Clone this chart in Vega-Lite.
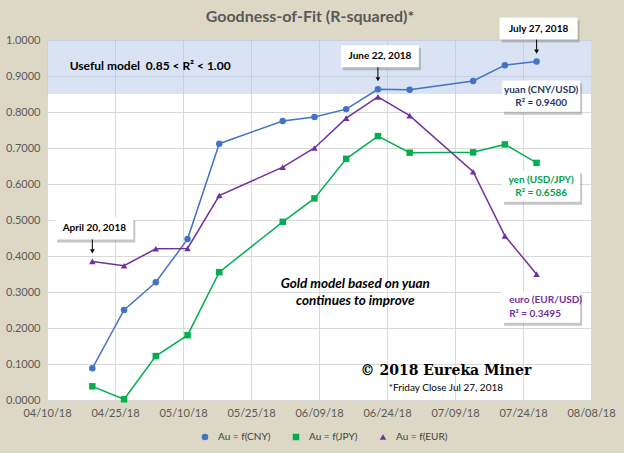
{
  "$schema": "https://vega.github.io/schema/vega-lite/v6.json",
  "width": 544,
  "height": 360,
  "autosize": "none",
  "padding": {"left": 47, "top": 40, "right": 33, "bottom": 53},
  "background": "#DDD8C5",
  "view": {"fill": "#FFFFFF", "stroke": null},
  "config": {"font": "Lato", "text": {"font": "Lato"}},
  "title": {"text": "Goodness-of-Fit (R-squared)*", "fontSize": 16, "font": "Lato", "fontWeight": "bold", "color": "#595959", "anchor": "middle", "frame": "group", "offset": -7, "dx": -9},
  "datasets": {
    "series": [
      {"date": "2018-04-20", "series": "Au = f(CNY)", "r2": 0.088},
      {"date": "2018-04-27", "series": "Au = f(CNY)", "r2": 0.250},
      {"date": "2018-05-04", "series": "Au = f(CNY)", "r2": 0.327},
      {"date": "2018-05-11", "series": "Au = f(CNY)", "r2": 0.447},
      {"date": "2018-05-18", "series": "Au = f(CNY)", "r2": 0.712},
      {"date": "2018-06-01", "series": "Au = f(CNY)", "r2": 0.775},
      {"date": "2018-06-08", "series": "Au = f(CNY)", "r2": 0.786},
      {"date": "2018-06-15", "series": "Au = f(CNY)", "r2": 0.808},
      {"date": "2018-06-22", "series": "Au = f(CNY)", "r2": 0.863},
      {"date": "2018-06-29", "series": "Au = f(CNY)", "r2": 0.862},
      {"date": "2018-07-13", "series": "Au = f(CNY)", "r2": 0.886},
      {"date": "2018-07-20", "series": "Au = f(CNY)", "r2": 0.930},
      {"date": "2018-07-27", "series": "Au = f(CNY)", "r2": 0.940},
      {"date": "2018-04-20", "series": "Au = f(JPY)", "r2": 0.038},
      {"date": "2018-04-27", "series": "Au = f(JPY)", "r2": 0.002},
      {"date": "2018-05-04", "series": "Au = f(JPY)", "r2": 0.122},
      {"date": "2018-05-11", "series": "Au = f(JPY)", "r2": 0.180},
      {"date": "2018-05-18", "series": "Au = f(JPY)", "r2": 0.355},
      {"date": "2018-06-01", "series": "Au = f(JPY)", "r2": 0.495},
      {"date": "2018-06-08", "series": "Au = f(JPY)", "r2": 0.560},
      {"date": "2018-06-15", "series": "Au = f(JPY)", "r2": 0.670},
      {"date": "2018-06-22", "series": "Au = f(JPY)", "r2": 0.733},
      {"date": "2018-06-29", "series": "Au = f(JPY)", "r2": 0.687},
      {"date": "2018-07-13", "series": "Au = f(JPY)", "r2": 0.688},
      {"date": "2018-07-20", "series": "Au = f(JPY)", "r2": 0.710},
      {"date": "2018-07-27", "series": "Au = f(JPY)", "r2": 0.6586},
      {"date": "2018-04-20", "series": "Au = f(EUR)", "r2": 0.385},
      {"date": "2018-04-27", "series": "Au = f(EUR)", "r2": 0.373},
      {"date": "2018-05-04", "series": "Au = f(EUR)", "r2": 0.420},
      {"date": "2018-05-11", "series": "Au = f(EUR)", "r2": 0.421},
      {"date": "2018-05-18", "series": "Au = f(EUR)", "r2": 0.568},
      {"date": "2018-06-01", "series": "Au = f(EUR)", "r2": 0.647},
      {"date": "2018-06-08", "series": "Au = f(EUR)", "r2": 0.700},
      {"date": "2018-06-15", "series": "Au = f(EUR)", "r2": 0.783},
      {"date": "2018-06-22", "series": "Au = f(EUR)", "r2": 0.842},
      {"date": "2018-06-29", "series": "Au = f(EUR)", "r2": 0.790},
      {"date": "2018-07-13", "series": "Au = f(EUR)", "r2": 0.634},
      {"date": "2018-07-20", "series": "Au = f(EUR)", "r2": 0.456},
      {"date": "2018-07-27", "series": "Au = f(EUR)", "r2": 0.3495}
    ],
    "band": [{"start": "2018-04-10", "end": "2018-08-08", "lo": 0.85, "hi": 1.0}],
    "dates": [
      {"date": "2018-04-20", "r2": 0.385, "label": "April 20, 2018"},
      {"date": "2018-06-22", "r2": 0.863, "label": "June 22, 2018"},
      {"date": "2018-07-27", "r2": 0.940, "label": "July 27, 2018"}
    ],
    "boxes": [
      {"date": "2018-07-28", "r2": 0.844, "key": "yuan", "label": "yuan (CNY/USD)\nR² = 0.9400"},
      {"date": "2018-07-28", "r2": 0.594, "key": "yen", "label": "yen (USD/JPY)\nR² = 0.6586"},
      {"date": "2018-07-28", "r2": 0.258, "key": "euro", "label": "euro (EUR/USD)\nR² = 0.3495"}
    ],
    "useful": [{"date": "2018-04-15", "r2": 0.928, "label": "Useful model\u00a0\u00a00.85 < R² < 1.00"}],
    "gold": [{"date": "2018-06-17", "r2": 0.299, "label": "Gold model based on yuan\ncontinues to improve"}],
    "copy": [{"date": "2018-07-07", "r2": 0.081, "label": "© 2018 Eureka Miner"}],
    "close": [{"date": "2018-07-07", "r2": 0.033, "label": "*Friday Close Jul 27, 2018"}]
  },
  "encoding": {
    "x": {
      "field": "date", "type": "temporal",
      "scale": {"type": "utc", "domain": [{"year": 2018, "month": 4, "date": 10, "utc": true}, {"year": 2018, "month": 8, "date": 8, "utc": true}]},
      "axis": {
        "title": null, "labelExpr": "utcFormat(datum.value, '%m/%d/%y')",
        "values": [
          {"year": 2018, "month": 4, "date": 10, "utc": true},
          {"year": 2018, "month": 4, "date": 25, "utc": true},
          {"year": 2018, "month": 5, "date": 10, "utc": true},
          {"year": 2018, "month": 5, "date": 25, "utc": true},
          {"year": 2018, "month": 6, "date": 9, "utc": true},
          {"year": 2018, "month": 6, "date": 24, "utc": true},
          {"year": 2018, "month": 7, "date": 9, "utc": true},
          {"year": 2018, "month": 7, "date": 24, "utc": true},
          {"year": 2018, "month": 8, "date": 8, "utc": true}
        ],
        "domain": false, "ticks": false, "labelPadding": 7, "labelFontSize": 11, "labelColor": "#595959", "labelFont": "Lato",
        "gridColor": "#D9D9D9", "labelFlush": false, "labelOverlap": false
      }
    },
    "y": {
      "field": "r2", "type": "quantitative",
      "scale": {"domain": [0, 1], "nice": false},
      "axis": {
        "title": null, "format": ".4f", "values": [0, 0.1, 0.2, 0.3, 0.4, 0.5, 0.6, 0.7, 0.8, 0.9, 1.0],
        "domain": false, "ticks": false, "labelPadding": 7, "labelFontSize": 11, "labelColor": "#595959", "labelFont": "Lato",
        "gridColor": "#D9D9D9"
      }
    }
  },
  "layer": [
    {
      "data": {"name": "band"},
      "mark": {"type": "rect", "color": "#B4C8E8", "opacity": 0.5},
      "encoding": {
        "x": {"field": "start", "type": "temporal"},
        "x2": {"field": "end"},
        "y": {"field": "lo", "type": "quantitative"},
        "y2": {"field": "hi"}
      }
    },
    {
      "data": {"name": "series"},
      "mark": {"type": "line", "strokeWidth": 1.5},
      "encoding": {
        "stroke": {"field": "series", "type": "nominal", "legend": null,
          "scale": {"domain": ["Au = f(EUR)", "Au = f(JPY)", "Au = f(CNY)"], "range": ["#7030A0", "#00B050", "#4472C4"]}}
      }
    },
    {
      "data": {"name": "series"},
      "mark": {"type": "point", "filled": true, "size": 42, "opacity": 1},
      "encoding": {
        "color": {"field": "series", "type": "nominal",
          "scale": {"domain": ["Au = f(CNY)", "Au = f(JPY)", "Au = f(EUR)"], "range": ["#4472C4", "#00B050", "#7030A0"]},
          "legend": {"title": null, "orient": "none", "direction": "horizontal", "legendX": 153, "legendY": 392,
            "labelFontSize": 10, "labelColor": "#404040", "labelFont": "Lato", "symbolSize": 42, "columnPadding": 20, "labelOffset": 8}},
        "shape": {"field": "series", "type": "nominal",
          "scale": {"domain": ["Au = f(CNY)", "Au = f(JPY)", "Au = f(EUR)"], "range": ["circle", "square", "triangle-up"]},
          "legend": {"title": null, "orient": "none", "direction": "horizontal", "legendX": 153, "legendY": 392,
            "labelFontSize": 10, "labelColor": "#404040", "labelFont": "Lato", "symbolSize": 42, "columnPadding": 20, "labelOffset": 8}}
      }
    },
    {
      "data": {"name": "dates"},
      "mark": {"type": "point", "shape": "M-1,-0.282H1V0.282H-1Z", "size": 6084, "filled": true, "color": "#808080", "opacity": 0.45, "xOffset": 4, "yOffset": -30},
      "encoding": {}
    },
    {
      "data": {"name": "dates"},
      "mark": {"type": "point", "shape": "M-1,-0.282H1V0.282H-1Z", "size": 6084, "filled": true, "color": "#FFFFFF", "opacity": 1, "xOffset": 2, "yOffset": -33},
      "encoding": {}
    },
    {
      "data": {"name": "dates"},
      "mark": {"type": "text", "fontSize": 10, "fontWeight": "bold", "color": "#000000", "xOffset": 2, "yOffset": -33, "baseline": "middle", "align": "center", "font": "Lato"},
      "encoding": {"text": {"field": "label"}}
    },
    {
      "data": {"name": "dates"},
      "mark": {"type": "rule", "color": "#000000", "strokeWidth": 1, "yOffset": -22, "y2Offset": -12},
      "encoding": {"y2": {"field": "r2"}}
    },
    {
      "data": {"name": "dates"},
      "mark": {"type": "point", "shape": "triangle-down", "size": 22, "filled": true, "color": "#000000", "opacity": 1, "yOffset": -10},
      "encoding": {}
    },
    {
      "data": {"name": "boxes"},
      "mark": {"type": "point", "shape": "M-1,-0.4H1V0.4H-1Z", "size": 6084, "filled": true, "color": "#808080", "opacity": 0.45, "xOffset": 2, "yOffset": 3},
      "encoding": {}
    },
    {
      "data": {"name": "boxes"},
      "mark": {"type": "point", "shape": "M-1,-0.4H1V0.4H-1Z", "size": 6084, "filled": true, "color": "#FFFFFF", "opacity": 1},
      "encoding": {}
    },
    {
      "data": {"name": "boxes"},
      "transform": [{"filter": "datum.key === 'yuan'"}],
      "mark": {"type": "text", "fontSize": 10, "fontWeight": "bold", "color": "#1F3864", "align": "center", "baseline": "middle", "lineBreak": "\n", "lineHeight": 13, "dy": -6, "font": "Lato"},
      "encoding": {"text": {"field": "label"}}
    },
    {
      "data": {"name": "boxes"},
      "transform": [{"filter": "datum.key === 'yen'"}],
      "mark": {"type": "text", "fontSize": 10, "fontWeight": "bold", "color": "#00A04A", "align": "center", "baseline": "middle", "lineBreak": "\n", "lineHeight": 13, "dy": -6, "font": "Lato"},
      "encoding": {"text": {"field": "label"}}
    },
    {
      "data": {"name": "boxes"},
      "transform": [{"filter": "datum.key === 'euro'"}],
      "mark": {"type": "text", "fontSize": 10, "fontWeight": "bold", "color": "#7030A0", "align": "left", "baseline": "middle", "lineBreak": "\n", "lineHeight": 14, "dy": -7, "dx": -32, "font": "Lato"},
      "encoding": {"text": {"field": "label"}}
    },
    {
      "data": {"name": "useful"},
      "mark": {"type": "text", "fontSize": 12, "fontWeight": "bold", "color": "#000000", "align": "left", "baseline": "middle", "font": "Lato"},
      "encoding": {"text": {"field": "label"}}
    },
    {
      "data": {"name": "gold"},
      "mark": {"type": "text", "fontSize": 13.5, "fontWeight": "bold", "fontStyle": "italic", "color": "#000000", "align": "center", "baseline": "middle", "lineBreak": "\n", "lineHeight": 17, "dy": -8, "font": "Lato"},
      "encoding": {"text": {"field": "label"}}
    },
    {
      "data": {"name": "copy"},
      "mark": {"type": "text", "fontSize": 14, "fontWeight": "bold", "color": "#000000", "align": "center", "baseline": "middle", "font": "DejaVu Serif"},
      "encoding": {"text": {"field": "label"}}
    },
    {
      "data": {"name": "close"},
      "mark": {"type": "text", "fontSize": 10, "color": "#000000", "align": "center", "baseline": "middle", "font": "Lato"},
      "encoding": {"text": {"field": "label"}}
    }
  ]
}
